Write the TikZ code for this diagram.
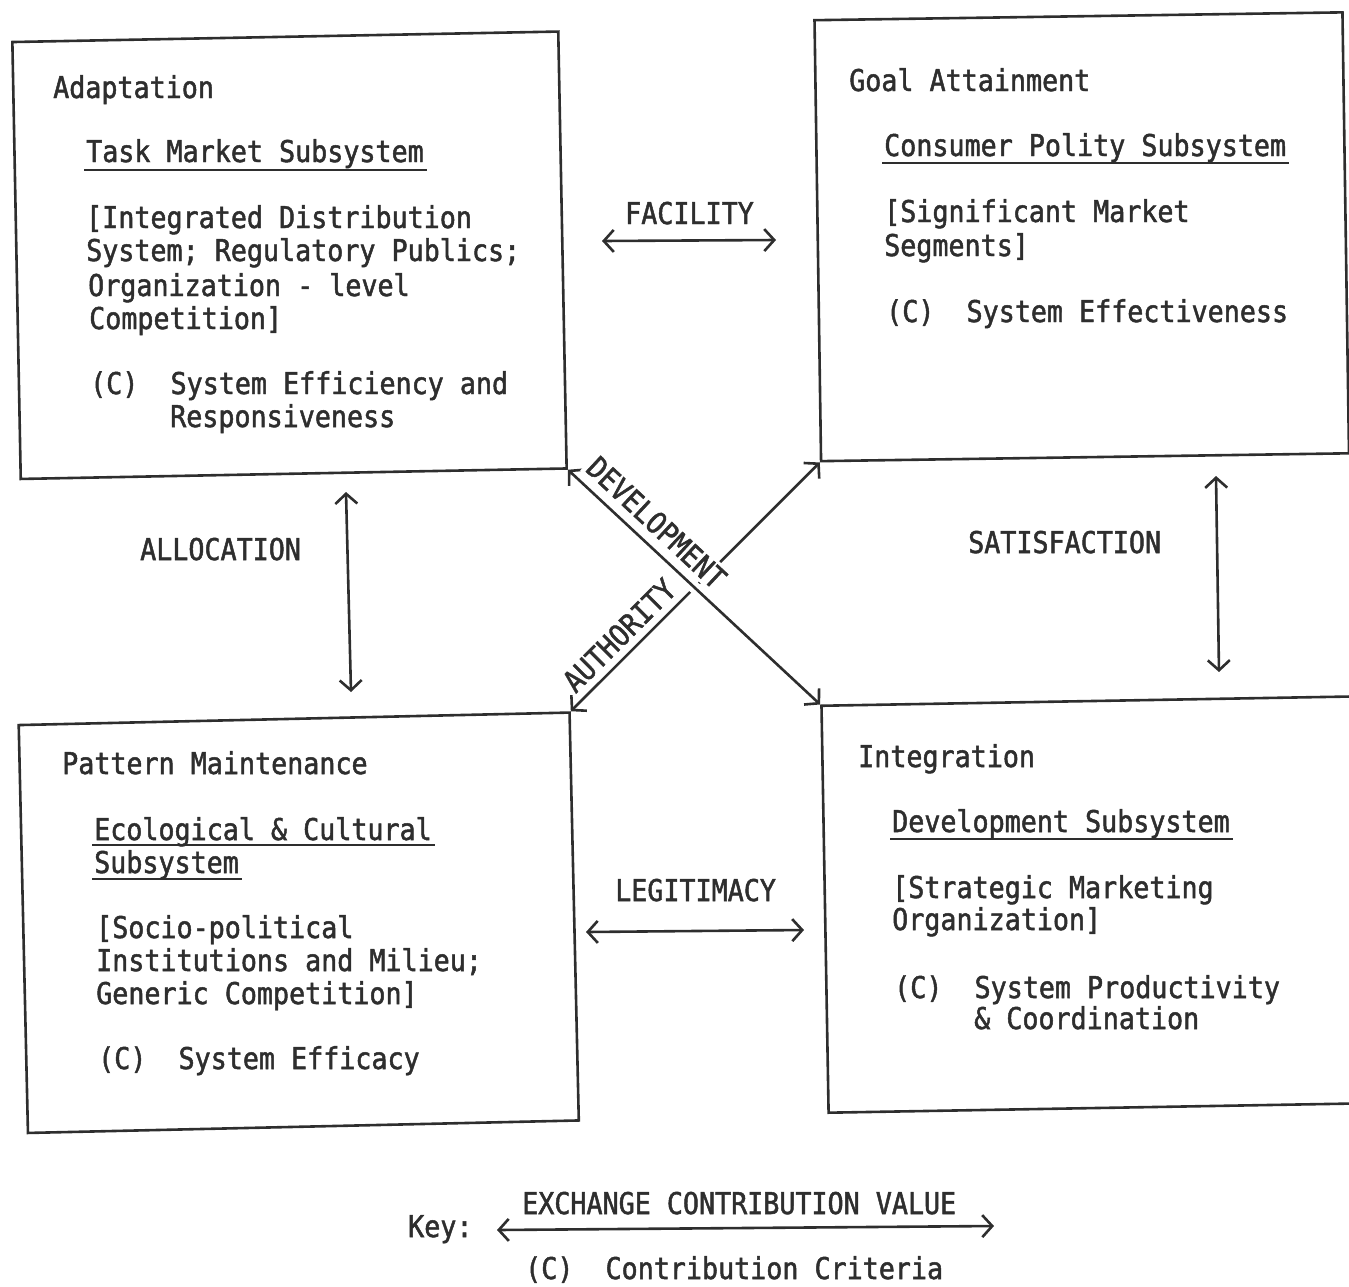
\documentclass[tikz,border=0pt]{standalone}
\usepackage{fontspec}
\usetikzlibrary{arrows.meta}
\newfontfamily\tw[FakeStretch=0.89,FakeBold=1.6]{DejaVu Sans Mono}
\definecolor{ink}{HTML}{2E2E2E}

\begin{document}
\begin{tikzpicture}[x=1pt,y=-1pt,
  box/.style={draw=ink, line width=2.6pt, inner sep=0pt},
  txt/.style={anchor=base west, inner sep=0pt, text=ink,
    font=\tw\fontsize{30}{33}\selectfont},
  tip/.tip={Straight Barb[length=10pt,width=22pt]},
  link/.style={draw=ink, line width=2.6pt, tip-tip},
  ul/.style={draw=ink, line width=2pt, shorten <=-2pt, shorten >=-3pt},
]
\useasboundingbox (0,0) rectangle (1349,1286);

% ---- the four subsystem boxes ----
\node[box, minimum width=546pt, minimum height=437pt, rotate=1.1] (A) at (289.5,255.25) {};
\node[box, minimum width=528pt, minimum height=441pt, rotate=0.85] (B) at (1081.75,236.75) {};
\node[box, minimum width=551pt, minimum height=408pt, rotate=1.3] (C) at (298.75,922.75) {};
\node[box, minimum width=540pt, minimum height=407pt, rotate=1.0] (D) at (1095,904.5) {};

% ---- Adaptation ----
\node[txt] (a1) at (53,98) {Adaptation};
\node[txt] (a2) at (86,162) {Task Market Subsystem};
\node[txt] (a3) at (86,228) {[Integrated Distribution};
\node[txt] (a4) at (86,261) {System; Regulatory Publics;};
\node[txt] (a5) at (88,296) {Organization - level};
\node[txt] (a6) at (89,329) {Competition]};
\node[txt] (a7) at (90,394) {(C)\ \ System Efficiency and};
\node[txt] (a8) at (170,427) {Responsiveness};
\draw[ul] ([yshift=-8pt]a2.base west) -- ([yshift=-8pt]a2.base east);

% ---- Goal Attainment ----
\node[txt] (b1) at (849,91) {Goal Attainment};
\node[txt] (b2) at (884,156) {Consumer Polity Subsystem};
\node[txt] (b3) at (884,222) {[Significant Market};
\node[txt] (b4) at (884,256) {Segments]};
\node[txt] (b5) at (886,322) {(C)\ \ System Effectiveness};
\draw[ul] ([yshift=-7pt]b2.base west) -- ([yshift=-7pt]b2.base east);

% ---- Pattern Maintenance ----
\node[txt] (c1) at (62,774) {Pattern Maintenance};
\node[txt] (c2) at (94,840) {Ecological \& Cultural};
\node[txt] (c3) at (94,873) {Subsystem};
\node[txt] (c4) at (96,938) {[Socio-political};
\node[txt] (c5) at (96,971) {Institutions and Milieu;};
\node[txt] (c6) at (96,1004) {Generic Competition]};
\node[txt] (c7) at (98,1069) {(C)\ \ System Efficacy};
\draw[ul] ([yshift=-5pt]c2.base west) -- ([yshift=-5pt]c2.base east);
\draw[ul] ([yshift=-6pt]c3.base west) -- ([yshift=-6pt]c3.base east);

% ---- Integration ----
\node[txt] (d1) at (858,767) {Integration};
\node[txt] (d2) at (892,832) {Development Subsystem};
\node[txt] (d3) at (892,898) {[Strategic Marketing};
\node[txt] (d4) at (892,930) {Organization]};
\node[txt] (d5) at (894,998) {(C)\ \ System Productivity};
\node[txt] (d6) at (974,1029) {\& Coordination};
\draw[ul] ([yshift=-7pt]d2.base west) -- ([yshift=-7pt]d2.base east);

% ---- exchanges between neighbouring boxes ----
\coordinate (f1) at (602,241);  \coordinate (f2) at (776,240);
\coordinate (g1) at (346,492);  \coordinate (g2) at (351,692);
\coordinate (s1) at (1216,476); \coordinate (s2) at (1219,672);
\coordinate (l1) at (586,932);  \coordinate (l2) at (804,930);
\draw[link] (f1) -- (f2);
\draw[link] (g1) -- (g2);
\draw[link] (s1) -- (s2);
\draw[link] (l1) -- (l2);
\node[txt] (facility) at (625,224) {FACILITY};
\node[txt] (allocation) at (140,560) {ALLOCATION};
\node[txt] (satisfaction) at (968,553) {SATISFACTION};
\node[txt] (legitimacy) at (615,901) {LEGITIMACY};

% ---- diagonal exchanges ----
\draw[link] (C.north east) -- node[txt, anchor=south, sloped, above=7pt, pos=0.25] (auth) {AUTHORITY} (B.south west);
\draw[link, preaction={draw=white, line width=12pt, arrows=-}] (A.south east) --
  node[txt, anchor=south, sloped, above=6pt, pos=0.293, fill=white, inner sep=3pt] (dev) {DEVELOPMENT} (D.north west);

% ---- key ----
\coordinate (k1) at (497,1230); \coordinate (k2) at (994,1226);
\draw[link] (k1) -- (k2);
\node[txt] (key) at (408,1237) {Key:};
\node[txt] (kv) at (522,1214) {EXCHANGE CONTRIBUTION VALUE};
\node[txt] (kc) at (525,1279) {(C)\ \ Contribution Criteria};
\end{tikzpicture}
\end{document}
